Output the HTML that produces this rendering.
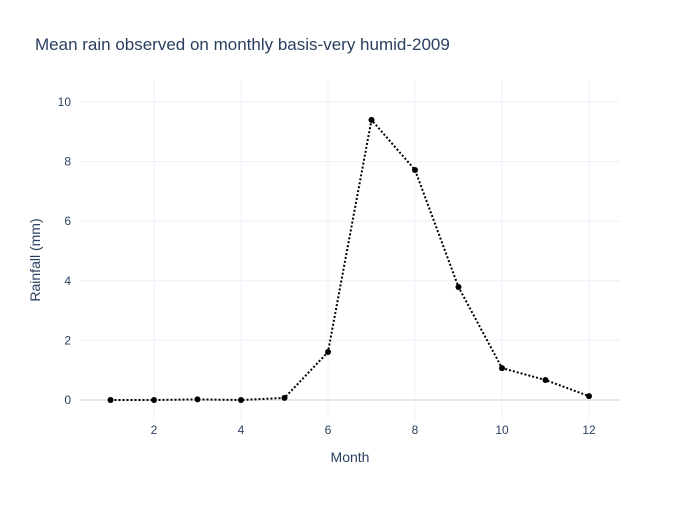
<!DOCTYPE html>
<html><head><meta charset="utf-8"><style>
body{margin:0;background:#fff;font-family:"Liberation Sans",sans-serif;}
svg text{font-family:"Liberation Sans",sans-serif;fill:#2a3f5f;}
</style></head><body>
<svg id="chart" width="700" height="500" viewBox="0 0 700 500" xmlns="http://www.w3.org/2000/svg">
<rect width="700" height="500" fill="#fff"/>
<text x="35" y="50" font-size="17">Mean rain observed on monthly basis-very humid-2009</text>
<g id="grid"></g><g id="ticks"></g><g id="series"></g>
<text x="350" y="462" font-size="14" text-anchor="middle">Month</text>
<text transform="translate(40,260) rotate(-90)" font-size="14" text-anchor="middle">Rainfall (mm)</text>
</svg>
<script>
const months=[1,2,3,4,5,6,7,8,9,10,11,12];
const rainfall=[0,0,0.02,0,0.07,1.61,9.4,7.72,3.79,1.07,0.67,0.13];
const xTicks=[2,4,6,8,10,12];
const yTicks=[0,2,4,6,8,10];
const NS="http://www.w3.org/2000/svg";
function X(v){return 110.5+(v-1)*43.5;}
function Y(v){return 400-v*29.8;}
function mk(tag,attrs,parent){const e=document.createElementNS(NS,tag);for(const k in attrs)e.setAttribute(k,attrs[k]);parent.appendChild(e);return e;}
const grid=document.getElementById('grid'),ticks=document.getElementById('ticks'),series=document.getElementById('series');
xTicks.forEach(t=>{
 const l=mk('line',{x1:X(t),x2:X(t),y1:80,y2:420,stroke:'#ebf0f8','stroke-width':1},grid);
 
 
 const tx=mk('text',{x:X(t),y:434,'font-size':12,'text-anchor':'middle'},ticks);tx.textContent=t;
 
 
});
yTicks.forEach(t=>{
 const l=mk('line',{x1:80,x2:620,y1:Y(t),y2:Y(t),stroke:t===0?'#e5e8ee':'#ebf0f8','stroke-width':t===0?2:1},grid);
 
 
 const tx=mk('text',{x:79-8,y:Y(t)+4,'font-size':12,'text-anchor':'end'},ticks);tx.textContent=t;
 
 
});
const pts=months.map((m,i)=>X(m)+','+Y(rainfall[i])).join(' ');
const pl=mk('polyline',{points:pts,fill:'none',stroke:'#000','stroke-width':2,'stroke-dasharray':'2,2'},series);


months.forEach((m,i)=>{
 const c=mk('circle',{cx:X(m),cy:Y(rainfall[i]),r:3,fill:'#000'},series);
 
 
});
</script>
</body></html>
